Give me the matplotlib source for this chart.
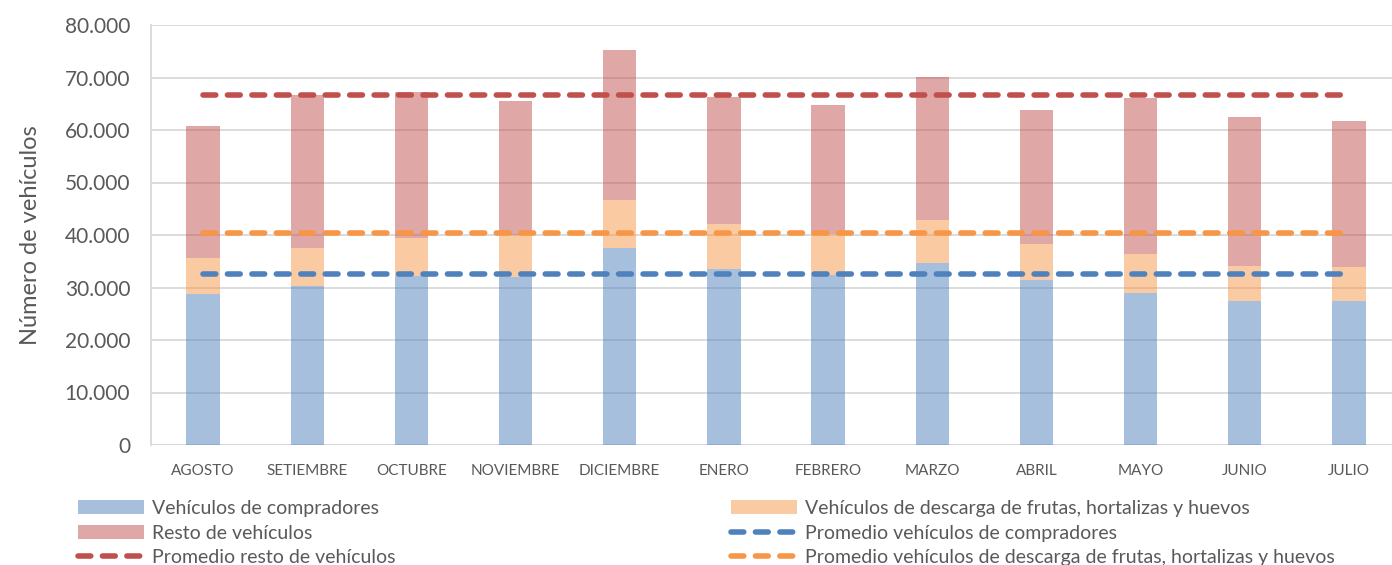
import numpy as np
import matplotlib.pyplot as plt
from matplotlib.ticker import FuncFormatter

# Data
meses = ['AGOSTO', 'SETIEMBRE', 'OCTUBRE', 'NOVIEMBRE', 'DICIEMBRE', 'ENERO',
         'FEBRERO', 'MARZO', 'ABRIL', 'MAYO', 'JUNIO', 'JULIO']
compradores = [28840, 30240, 32200, 32080, 37590, 33530,
               32330, 34740, 31380, 28970, 27510, 27450]
descarga = [6850, 7350, 7230, 7980, 9130, 8630,
            7860, 8180, 6970, 7420, 6660, 6400]
resto = [25040, 29030, 27830, 25490, 28460, 24150,
         24530, 27130, 25420, 29790, 28270, 27830]

prom_compradores = 32650
prom_descarga = 40380
prom_resto = 66750

plt.rcParams['font.family'] = ['Lato', 'DejaVu Sans']
gray = '#595959'

fig = plt.figure(figsize=(13.92, 5.65), dpi=100)
# axes runs slightly past the right edge of the figure, like the original
ax = fig.add_axes([151 / 1392, 1 - 445 / 565, 1250 / 1392, 420 / 565])

x = np.arange(len(meses))
w = 0.32
c = np.array(compradores)
d = np.array(descarga)
r = np.array(resto)

b1 = ax.bar(x, c, w, color='#4f81bd', alpha=0.5, label='Vehículos de compradores', zorder=2)
b2 = ax.bar(x, d, w, bottom=c, color='#f79646', alpha=0.5,
            label='Vehículos de descarga de frutas, hortalizas y huevos', zorder=2)
b3 = ax.bar(x, r, w, bottom=c + d, color='#c0504d', alpha=0.5, label='Resto de vehículos', zorder=2)

dash = dict(lw=4, dashes=(2.3, 2.1), dash_capstyle='round', zorder=3)
l1, = ax.plot(x, [prom_compradores] * len(x), color='#4f81bd',
              label='Promedio vehículos de compradores', **dash)
l2, = ax.plot(x, [prom_resto] * len(x), color='#c0504d',
              label='Promedio resto de vehículos', **dash)
l3, = ax.plot(x, [prom_descarga] * len(x), color='#f79646',
              label='Promedio vehículos de descarga de frutas, hortalizas y huevos', **dash)

ax.set_xlim(-0.5, len(meses) - 0.5)
ax.set_ylim(0, 80000)
ax.set_yticks(np.arange(0, 80001, 10000))
ax.yaxis.set_major_formatter(FuncFormatter(lambda v, p: f'{int(v):,}'.replace(',', '.')))
ax.set_xticks(x)
ax.set_xticklabels(meses)
ax.tick_params(axis='y', labelsize=15, colors=gray, length=0, pad=15)
ax.tick_params(axis='x', labelsize=11, colors=gray, length=0, pad=14)
ax.grid(axis='y', color='#d9d9d9', lw=1.3, zorder=0)
for s in ['top', 'right', 'bottom']:
    ax.spines[s].set_visible(False)
ax.spines['left'].set_color('#d9d9d9')
ax.spines['left'].set_linewidth(1.3)
ax.axhline(0, color='#d9d9d9', lw=1.3, zorder=1)

ax.set_ylabel('Número de vehículos', fontsize=17, color=gray, labelpad=17)

# two one-column legends, placed like the original's two columns
leg_kw = dict(loc='upper left', frameon=False, fontsize=14, labelcolor=gray,
              handlelength=3.4, handleheight=0.72, labelspacing=0.39,
              handletextpad=0.4, borderpad=0, borderaxespad=0)
col1 = [b1, b3, l2]
col2 = [b2, l1, l3]
leg1 = fig.legend(col1, [h.get_label() for h in col1],
                  bbox_to_anchor=(78 / 1392, 1 - 500 / 565), **leg_kw)
leg2 = fig.legend(col2, [h.get_label() for h in col2],
                  bbox_to_anchor=(731 / 1392, 1 - 500 / 565), **leg_kw)

fig.savefig('out.png', dpi=100)
